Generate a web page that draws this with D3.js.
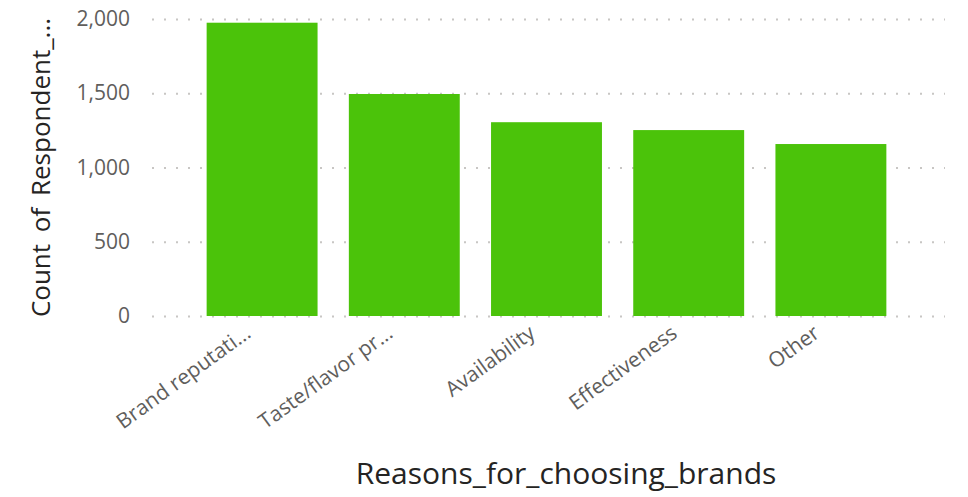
<!DOCTYPE html>
<html>
<head>
<meta charset="utf-8">
<script src="https://cdn.jsdelivr.net/npm/d3@7"></script>
<style>
  html, body { margin: 0; padding: 0; background: #ffffff; }
  #chart .tick text { font-family: 'Open Sans', 'Noto Sans', sans-serif; }
  #chart .axis-title { font-family: 'Open Sans', 'Noto Sans', sans-serif; fill: #252423; }
</style>
</head>
<body>
<div id="chart"></div>
<script>
// ── data ───────────────────────────────────────────────
const categories = ["Brand reputati...", "Taste/flavor pr...", "Availability", "Effectiveness", "Other"];
const counts = [1975, 1495, 1305, 1252, 1158];
const yTicks = [0, 500, 1000, 1500, 2000];

// ── dimensions ─────────────────────────────────────────
const W = 968, H = 497;
const plot = { left: 152, right: 945, top: 19, bottom: 316 };

const svg = d3.select("#chart").append("svg")
  .attr("width", W)
  .attr("height", H);

// ── scales ─────────────────────────────────────────────
const x = d3.scaleBand()
  .domain(categories)
  .range([191, 902])
  .paddingInner(0.22)
  .paddingOuter(0.11);

const y = d3.scaleLinear()
  .domain([0, 2000])
  .range([plot.bottom, plot.top]);

// ── gridlines + y axis ────────────────────────────────
const yAxis = d3.axisLeft(y)
  .tickValues(yTicks)
  .tickFormat(d3.format(","))
  .tickSize(-(plot.right - plot.left))
  .tickPadding(22);

svg.append("g")
  .attr("class", "axis axis-y")
  .attr("transform", `translate(${plot.left},0)`)
  .call(yAxis)
  .call(g => g.select(".domain").remove())
  .call(g => g.selectAll(".tick line")
    .attr("stroke", "#c8c6c4")
    .attr("stroke-width", 2)
    .attr("stroke-dasharray", "2,10"))
  .call(g => g.selectAll(".tick text")
    .attr("x", -22)
    .attr("fill", "#605e5c")
    .style("font-size", "21px"));

// ── bars ───────────────────────────────────────────────
svg.selectAll(".bar")
  .data(categories)
  .enter()
  .append("rect")
    .attr("class", "bar")
    .attr("x", d => x(d))
    .attr("width", x.bandwidth())
    .attr("y", (d, i) => y(counts[i]))
    .attr("height", (d, i) => y(0) - y(counts[i]))
    .attr("fill", "#4bc30a");

// ── x axis labels (rotated) ───────────────────────────
const xAxis = d3.axisBottom(x).tickSize(0).tickPadding(0);

svg.append("g")
  .attr("class", "axis axis-x")
  .attr("transform", `translate(0,${plot.bottom})`)
  .call(xAxis)
  .call(g => g.select(".domain").remove())
  .call(g => g.selectAll(".tick text")
    .attr("fill", "#605e5c")
    .style("font-size", "21px")
    .attr("text-anchor", "end")
    .attr("dy", 0)
    .attr("transform", "translate(-10,20) rotate(-36)"));

// ── axis titles ────────────────────────────────────────
svg.append("text")
  .attr("class", "axis-title")
  .attr("transform", `translate(50,${(plot.top + plot.bottom) / 2}) rotate(-90)`)
  .attr("text-anchor", "middle")
  .style("font-size", "26px")
  .style("word-spacing", "5px")
  .text("Count of Respondent_...");

svg.append("text")
  .attr("class", "axis-title")
  .attr("x", 566)
  .attr("y", 484)
  .attr("text-anchor", "middle")
  .style("font-size", "30px")
  .text("Reasons_for_choosing_brands");
</script>
</body>
</html>
